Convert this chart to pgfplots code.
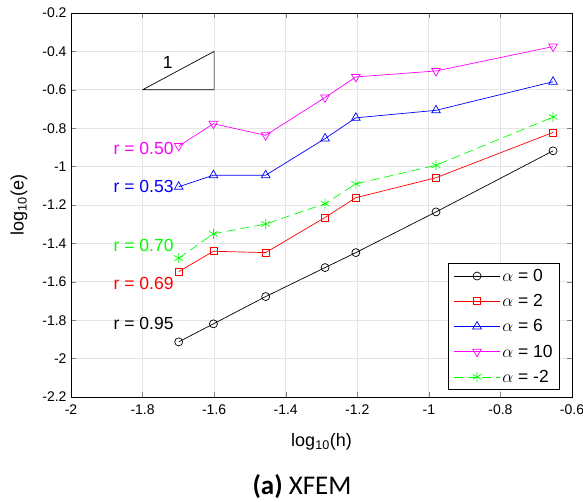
\documentclass[border=0pt]{standalone}
\usepackage{fontspec}
\setmainfont{Liberation Sans}
\newfontfamily\carlito{Carlito}
\usepackage{pgfplots}
\pgfplotsset{compat=1.18}
\definecolor{mgreen}{RGB}{0,255,0}
\definecolor{mmag}{RGB}{255,0,255}
\definecolor{mblue}{RGB}{0,0,255}
\definecolor{mred}{RGB}{255,0,0}
\begin{document}
\begin{tikzpicture}[x=1pt,y=1pt]
\path[use as bounding box] (0,0) rectangle (583,502);
\begin{axis}[
  at={(71pt,105pt)}, anchor=south west,
  scale only axis, width=501pt, height=384pt,
  xmin=-2, xmax=-0.6, ymin=-2.2, ymax=-0.2,
  xtick={-2,-1.8,...,-0.6}, ytick={-2.2,-2,...,-0.2},
  /pgf/number format/assume math mode=true,
  /pgf/number format/fixed,
  tick label style={font=\fontsize{14}{15}\selectfont},
  xticklabel style={yshift=-4pt},
  yticklabel style={xshift=-1pt},
  tick align=inside, tick pos=both,
  major tick length=5pt,
  grid=major, grid style={gray!20, line width=0.8pt},
  axis line style={line width=0.8pt},
  xlabel={log\textsubscript{10}(h)},
  ylabel={log\textsubscript{10}(e)},
  label style={font=\fontsize{18}{20}\selectfont},
  xlabel style={yshift=-12pt},
  ylabel style={yshift=8pt},
  legend style={at={(0.976,0.018)}, anchor=south east, draw=black, fill=white,
    line width=0.6pt, font=\fontsize{17.5}{20}\selectfont, row sep=7.5pt,
    inner xsep=5pt, inner ysep=4pt},
  legend cell align=left,
  legend image code/.code={\draw[mark repeat=2,mark phase=2,#1] plot coordinates {(0pt,0pt)(23pt,0pt)(46pt,0pt)};},
  every axis plot/.append style={line width=0.7pt},
  mark size=4pt,
]
\addplot[black, mark=o, mark options={solid}] coordinates {
(-1.699,-1.913) (-1.602,-1.819) (-1.456,-1.677) (-1.29,-1.526) (-1.204,-1.448) (-0.980,-1.236) (-0.653,-0.918)};
\addlegendentry{$\alpha$ = 0}
\addplot[mred, mark=square, mark size=3.5pt, mark options={solid}] coordinates {
(-1.699,-1.547) (-1.602,-1.441) (-1.456,-1.448) (-1.29,-1.265) (-1.204,-1.162) (-0.980,-1.058) (-0.653,-0.822)};
\addlegendentry{$\alpha$ = 2}
\addplot[mblue, mark=triangle, mark size=5pt, mark options={solid}] coordinates {
(-1.699,-1.105) (-1.602,-1.045) (-1.456,-1.045) (-1.29,-0.854) (-1.204,-0.746) (-0.980,-0.707) (-0.653,-0.558)};
\addlegendentry{$\alpha$ = 6}
\addplot[mmag, mark=triangle, mark size=5pt, mark options={solid, rotate=180}] coordinates {
(-1.699,-0.893) (-1.602,-0.777) (-1.456,-0.837) (-1.29,-0.640) (-1.204,-0.533) (-0.980,-0.502) (-0.653,-0.375)};
\addlegendentry{$\alpha$ = 10}
\addplot[mgreen, dash pattern=on 9pt off 5pt, mark=asterisk, mark size=5pt, mark options={solid}] coordinates {
(-1.699,-1.477) (-1.602,-1.350) (-1.456,-1.299) (-1.29,-1.193) (-1.204,-1.090) (-0.980,-0.993) (-0.653,-0.742)};
\addlegendentry{$\alpha$ = -2}
\addplot[black, forget plot, line width=0.7pt] coordinates {(-1.8,-0.6) (-1.6,-0.4) (-1.6,-0.6) (-1.8,-0.6)};
\node[font=\fontsize{17.5}{19}\selectfont] at (axis cs:-1.73,-0.46) {1};
\node[anchor=east, text=mmag, font=\fontsize{17.5}{19}\selectfont, inner sep=0pt] at (axis cs:-1.713,-0.905) {r = 0.50};
\node[anchor=east, text=mblue, font=\fontsize{17.5}{19}\selectfont, inner sep=0pt] at (axis cs:-1.713,-1.105) {r = 0.53};
\node[anchor=east, text=mgreen, font=\fontsize{17.5}{19}\selectfont, inner sep=0pt] at (axis cs:-1.713,-1.41) {r = 0.70};
\node[anchor=east, text=mred, font=\fontsize{17.5}{19}\selectfont, inner sep=0pt] at (axis cs:-1.713,-1.61) {r = 0.69};
\node[anchor=east, text=black, font=\fontsize{17.5}{19}\selectfont, inner sep=0pt] at (axis cs:-1.713,-1.815) {r = 0.95};
\end{axis}
\node[font=\carlito\fontsize{27}{30}\selectfont] at (302,15) {\textbf{(a)} XFEM};
\end{tikzpicture}
\end{document}
